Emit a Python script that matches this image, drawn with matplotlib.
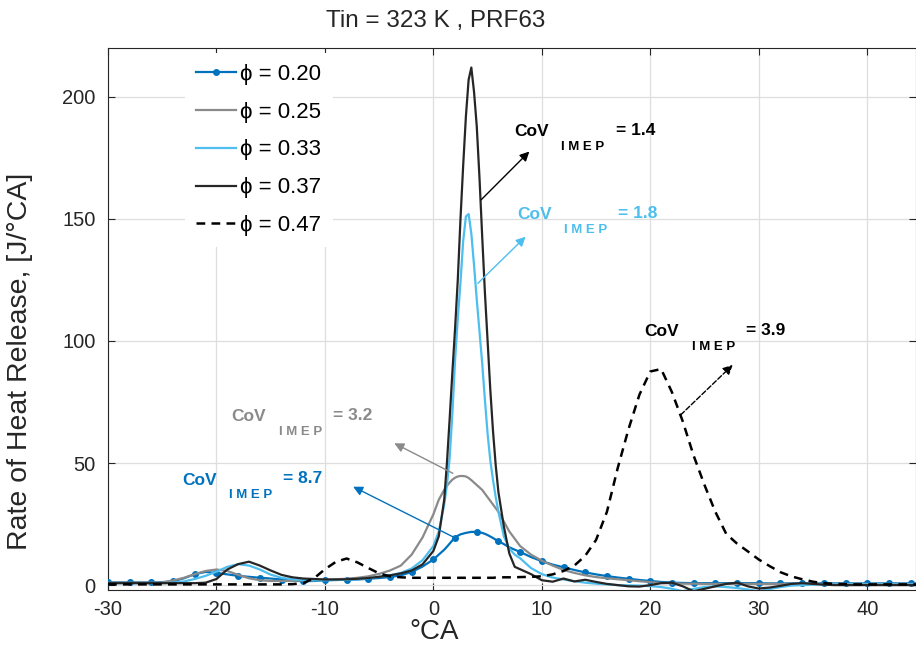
import matplotlib
matplotlib.use("Agg")
import matplotlib.pyplot as plt
from matplotlib.lines import Line2D

plt.rcParams['font.family'] = ['Liberation Sans', 'DejaVu Sans']
plt.rcParams['axes.unicode_minus'] = False

# crank angle grid (finer around the main peak)
ca = [-30, -29, -28, -27, -26, -25, -24, -23, -22, -21,
      -20, -19, -18, -17, -16, -15, -14, -13, -12, -11,
      -10, -9, -8, -7, -6, -5, -4, -3, -2, -1,
      0,
      0.5, 1, 1.25, 1.5, 1.75, 2, 2.25, 2.5, 2.75, 3, 3.25, 3.5, 3.75,
      4, 4.25, 4.5, 4.75, 5, 5.25, 5.5, 5.75, 6, 6.5, 7, 7.5,
      8, 9, 10, 11, 12, 13, 14, 15, 16, 17,
      18, 19, 20, 21, 22, 23, 24, 25, 26, 27,
      28, 29, 30, 31, 32, 33, 34, 35, 36, 37,
      38, 39, 40, 41, 42, 43, 44, 45]

rohr_020 = [1.1, 1.1, 1.1, 1.1, 1.1, 1.2, 1.6, 2.8, 4.5, 5.4,
            5.0, 4.4, 3.8, 3.4, 3.0, 2.7, 2.3, 1.9, 1.6, 1.7,
            2.0, 2.1, 2.2, 2.3, 2.6, 2.9, 3.3, 4.0, 5.4, 7.6,
            10.5,
            12.5, 14.5, 15.7, 17.0, 18.3, 19.5, 20.2, 20.8, 21.1, 21.4, 21.6, 21.8, 21.8,
            21.8, 21.6, 21.4, 21.0, 20.5, 19.9, 19.3, 18.6, 18.0, 16.8, 15.5, 14.5,
            13.6, 11.5, 9.8, 8.4, 7.3, 6.2, 5.2, 4.4, 3.7, 3.1,
            2.6, 2.1, 1.7, 1.3, 1.0, 0.9, 0.8, 0.8, 0.8, 0.8,
            0.8, 0.8, 0.8, 0.7, 0.7, 0.7, 0.7, 0.7, 0.7, 0.7,
            0.7, 0.7, 0.7, 0.7, 0.7, 0.7, 0.7, 0.7]

rohr_025 = [1.0, 1.0, 1.0, 1.0, 1.0, 1.1, 1.9, 3.0, 4.5, 5.8,
            6.4, 5.8, 4.2, 2.8, 2.0, 1.7, 1.7, 1.8, 1.9, 2.0,
            2.2, 2.4, 2.6, 3.0, 3.6, 4.6, 6.0, 8.0, 12.5, 19.5,
            29.0,
            35.0, 39.0, 40.7, 42.0, 43.2, 44.0, 44.5, 44.7, 44.7, 44.5, 43.9, 43.0, 42.0,
            41.0, 40.0, 39.0, 37.5, 36.0, 34.5, 33.0, 31.5, 30.0, 26.0, 22.0, 19.0,
            16.0, 12.5, 10.0, 8.0, 6.2, 5.0, 4.0, 3.3, 2.8, 2.4,
            2.0, 1.6, 1.2, 0.9, 0.7, 0.6, 0.6, 0.5, 0.5, 0.5,
            0.5, 0.5, 0.5, 0.5, 0.5, 0.5, 0.5, 0.5, 0.5, 0.5,
            0.5, 0.5, 0.5, 0.5, 0.5, 0.5, 0.5, 0.5]

rohr_033 = [0.8, 0.8, 0.8, 0.8, 0.8, 0.8, 1.0, 1.5, 2.5, 3.8,
            5.5, 7.5, 8.6, 8.0, 6.4, 4.3, 3.0, 2.4, 2.1, 2.0,
            2.0, 2.1, 2.2, 2.4, 2.8, 3.4, 4.0, 5.0, 6.8, 10.2,
            16.0,
            22.0, 33.0, 41.0, 52.0, 70.0, 92.0, 109.0, 124.0, 141.0, 151.0, 152.0, 144.0, 131.0,
            117.0, 104.0, 91.0, 76.0, 62.0, 51.0, 43.0, 36.0, 30.0, 20.0, 15.0, 12.5,
            11.0, 7.0, 4.5, 3.1, 2.3, 1.6, 1.0, 0.6, 0.3, 0.0,
            -0.1, -0.2, -0.4, -0.8, -1.5, -2.5, -1.5, -0.8, -0.5, -0.8,
            -1.2, -1.8, -2.5, -1.6, -0.8, -0.2, 0.0, 0.2, 0.3, 0.3,
            0.3, 0.3, 0.3, 0.3, 0.3, 0.3, 0.3, 0.3]

rohr_037 = [0.8, 0.8, 0.8, 0.8, 0.8, 0.8, 0.8, 0.8, 0.8, 1.0,
            2.5, 6.4, 8.6, 9.6, 8.0, 6.0, 4.2, 3.2, 2.7, 2.5,
            2.3, 2.3, 2.4, 2.6, 2.9, 3.4, 4.0, 4.8, 6.0, 8.5,
            14.0,
            20.0, 35.0, 50.0, 68.0, 87.0, 105.0, 125.0, 150.0, 172.0, 192.0, 207.0, 212.0, 202.0,
            188.0, 167.0, 143.0, 120.0, 100.0, 80.0, 63.0, 49.0, 38.0, 24.0, 13.0, 7.5,
            6.5, 4.5, 2.0, 1.4, 2.7, 1.5, 2.2, 1.3, 0.5, 0.0,
            -0.5, -0.6, 0.0, 0.8, 1.0, -0.5, -2.5, -1.5, -0.5, 0.5,
            1.0, -0.5, -1.4, -1.0, -0.3, 0.5, 0.8, 0.5, 0.2, 0.0,
            0.0, 0.0, 0.0, 0.0, 0.0, 0.0, 0.0, 0.0]

rohr_047 = [0.3, 0.3, 0.3, 0.3, 0.3, 0.3, 0.3, 0.3, 0.3, 0.3,
            0.3, 0.3, 0.3, 0.3, 0.3, 0.3, 0.3, 0.4, 0.8, 2.8,
            6.5, 9.5, 10.9, 9.3, 7.0, 4.8, 3.6, 3.2, 3.0, 3.0,
            3.0,
            3.0, 3.0, 3.0, 3.0, 3.0, 3.0, 3.0, 3.0, 3.0, 3.0, 3.0, 3.0, 3.0,
            3.0, 3.0, 3.0, 3.0, 3.0, 3.0, 3.0, 3.1, 3.1, 3.2, 3.2, 3.2,
            3.3, 3.4, 3.6, 4.4, 5.8, 8.0, 12.0, 18.5, 30.0, 48.0,
            64.0, 78.0, 87.5, 88.5, 79.0, 67.0, 53.0, 41.0, 30.0, 21.0,
            17.0, 13.8, 10.5, 7.8, 5.3, 3.6, 2.4, 1.4, 0.8, 0.5,
            0.4, 0.3, 0.3, 0.3, 0.3, 0.3, 0.3, 0.3]

labels = ['ϕ = 0.20', 'ϕ = 0.25', 'ϕ = 0.33', 'ϕ = 0.37', 'ϕ = 0.47']
cov_values = ['8.7', '3.2', '1.8', '1.4', '3.9']

c_blue = '#0072BD'
c_gray = '#8a8a8a'
c_light = '#4DBEEE'
c_black = '#262626'

fig = plt.figure(figsize=(9.16, 6.5), dpi=100)
ax = fig.add_axes([108 / 916, 60 / 650, 808 / 916, 542 / 650])

marks = [i for i, v in enumerate(ca) if v % 2 == 0]
ax.plot(ca, rohr_020, color=c_blue, lw=1.6, marker='o', ms=4, markevery=marks, zorder=3)
ax.plot(ca, rohr_025, color=c_gray, lw=1.6, zorder=3)
ax.plot(ca, rohr_033, color=c_light, lw=1.6, zorder=3)
ax.plot(ca, rohr_037, color=c_black, lw=1.6, zorder=3)
ax.plot(ca, rohr_047, color='black', lw=1.8, ls=(0, (3.5, 2.5)), zorder=3)

ax.set_xlim(-30, 44.5)
ax.set_ylim(-2, 220)
ax.set_xticks([-30, -20, -10, 0, 10, 20, 30, 40])
ax.set_yticks([0, 50, 100, 150, 200])
ax.grid(True, color='#dedede', lw=0.9)
ax.set_axisbelow(True)
ax.tick_params(direction='in', length=5, width=0.8, colors=c_black, labelsize=14.5,
               top=True, right=True)
ax.tick_params(axis='y', pad=9)
ax.tick_params(axis='x', pad=7)
for s in ax.spines.values():
    s.set_color(c_black)
    s.set_linewidth(0.8)

# legend
handles = [Line2D([], [], color=c_blue, lw=1.6, marker='o', ms=4),
           Line2D([], [], color=c_gray, lw=1.6),
           Line2D([], [], color=c_light, lw=1.6),
           Line2D([], [], color=c_black, lw=1.6),
           Line2D([], [], color='black', lw=1.8, ls=(0, (3.5, 2.5)))]
leg = ax.legend(handles, labels, loc='upper left', bbox_to_anchor=(0.082, 1.012),
                fontsize=16, frameon=True, fancybox=False, edgecolor='none',
                facecolor='white', framealpha=1, handlelength=1.8,
                handletextpad=0.18, labelspacing=0.76, borderpad=0.5)
leg.set_zorder(5)


# CoV_IMEP annotations
def cov_label(x, y, value, color, tail, head, ls='-'):
    ax.annotate('', xy=head, xytext=tail,
                arrowprops=dict(arrowstyle='-|>', color=color, lw=1.0, ls=ls,
                                mutation_scale=14, shrinkA=0, shrinkB=0), zorder=6)
    ax.text(x, y, 'CoV', color=color, fontsize=12.5, fontweight='bold',
            va='center', ha='left', zorder=6)
    ax.annotate('I M E P', xy=(x, y), xytext=(34, -11), textcoords='offset points',
                color=color, fontsize=9.5, fontweight='bold', va='center', ha='left', zorder=6)
    ax.annotate('= ' + value, xy=(x, y), xytext=(73, 1), textcoords='offset points',
                color=color, fontsize=12.5, fontweight='bold', va='center', ha='left', zorder=6)


cov_label(-23.2, 43, cov_values[0], c_blue, (1.8, 19.8), (-7.4, 40.3))
cov_label(-18.6, 69, cov_values[1], c_gray, (1.8, 45.8), (-3.6, 58.1))
cov_label(7.7, 151.6, cov_values[2], c_light, (4.1, 123.6), (8.5, 142.7))
cov_label(7.45, 185.8, cov_values[3], 'black', (4.4, 157.8), (8.85, 177.6))
cov_label(19.45, 103.8, cov_values[4], 'black', (22.8, 69.7), (27.6, 90.2), ls='--')

fig.text(436 / 916, 1 - 21 / 650, 'Tin = 323 K , PRF63', fontsize=17.5, ha='center', va='center',
         color=c_black)
fig.text(434 / 916, 1 - 632 / 650, '°CA', fontsize=20, ha='center', va='center', color=c_black)
fig.text(20 / 916, 1 - 361 / 650, 'Rate of Heat Release, [J/°CA]', fontsize=20.5, rotation=90,
         ha='center', va='center', color=c_black)

fig.savefig('out.png', dpi=100)
